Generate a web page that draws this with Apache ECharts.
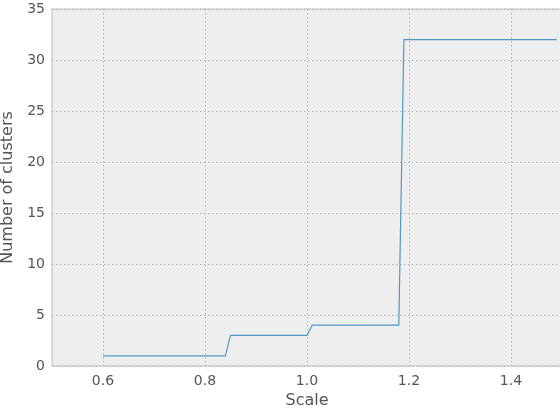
<!DOCTYPE html>
<html>
<head>
<meta charset="utf-8">
<script src="https://cdn.jsdelivr.net/npm/echarts@6/dist/echarts.min.js"></script>
<style>html,body{margin:0;padding:0;background:#fff;}#c{width:560px;height:410px;}</style>
</head>
<body>
<div id="c"></div>
<script>
const scaleValues = [0.60, 0.84, 0.85, 1.00, 1.01, 1.18, 1.19, 1.49];
const clusterCounts = [1, 1, 3, 3, 4, 4, 32, 32];
const xTickValues = [0.6, 0.8, 1.0, 1.2, 1.4];
const yTickLabels = ['0', '5', '10', '15', '20', '25', '30', '35'];

const chart = echarts.init(document.getElementById('c'));
const font = 'DejaVu Sans';
chart.setOption({
  animation: false,
  grid: {left: 52, right: -2, top: 9, bottom: 44, show: true, containLabel: false,
         outerBoundsMode: 'none',
         backgroundColor: '#eeeeee', borderColor: '#bcbcbc', borderWidth: 1},
  xAxis: {
    type: 'value', min: 0.5, max: 1.5,
    name: 'Scale', nameLocation: 'middle', nameGap: 23,
    nameTextStyle: {color: '#555555', fontSize: 16, fontFamily: font},
    axisLine: {show: false}, axisTick: {show: false, customValues: xTickValues},
    axisLabel: {customValues: xTickValues, color: '#555555', fontSize: 14, fontFamily: font, margin: 8,
                formatter: v => v.toFixed(1)},
    splitLine: {show: true, lineStyle: {color: '#b4b4b4', type: [1.5, 2.5], width: 1}}
  },
  yAxis: {
    type: 'value', min: 0, max: 35, interval: 5,
    name: 'Number of clusters', nameLocation: 'middle', nameGap: 29,
    nameTextStyle: {color: '#555555', fontSize: 16, fontFamily: font},
    axisLine: {show: false}, axisTick: {show: false},
    axisLabel: {color: '#555555', fontSize: 14, fontFamily: font, margin: 7,
                formatter: (v, i) => yTickLabels[i]},
    splitLine: {show: true, lineStyle: {color: '#b4b4b4', type: [1.5, 2.5], width: 1}}
  },
  series: [{
    type: 'line', showSymbol: false, symbol: 'none',
    data: scaleValues.map((x, i) => [x, clusterCounts[i]]),
    lineStyle: {color: '#348ABD', width: 1.2, opacity: 0.85}
  }]
});
</script>
</body>
</html>
